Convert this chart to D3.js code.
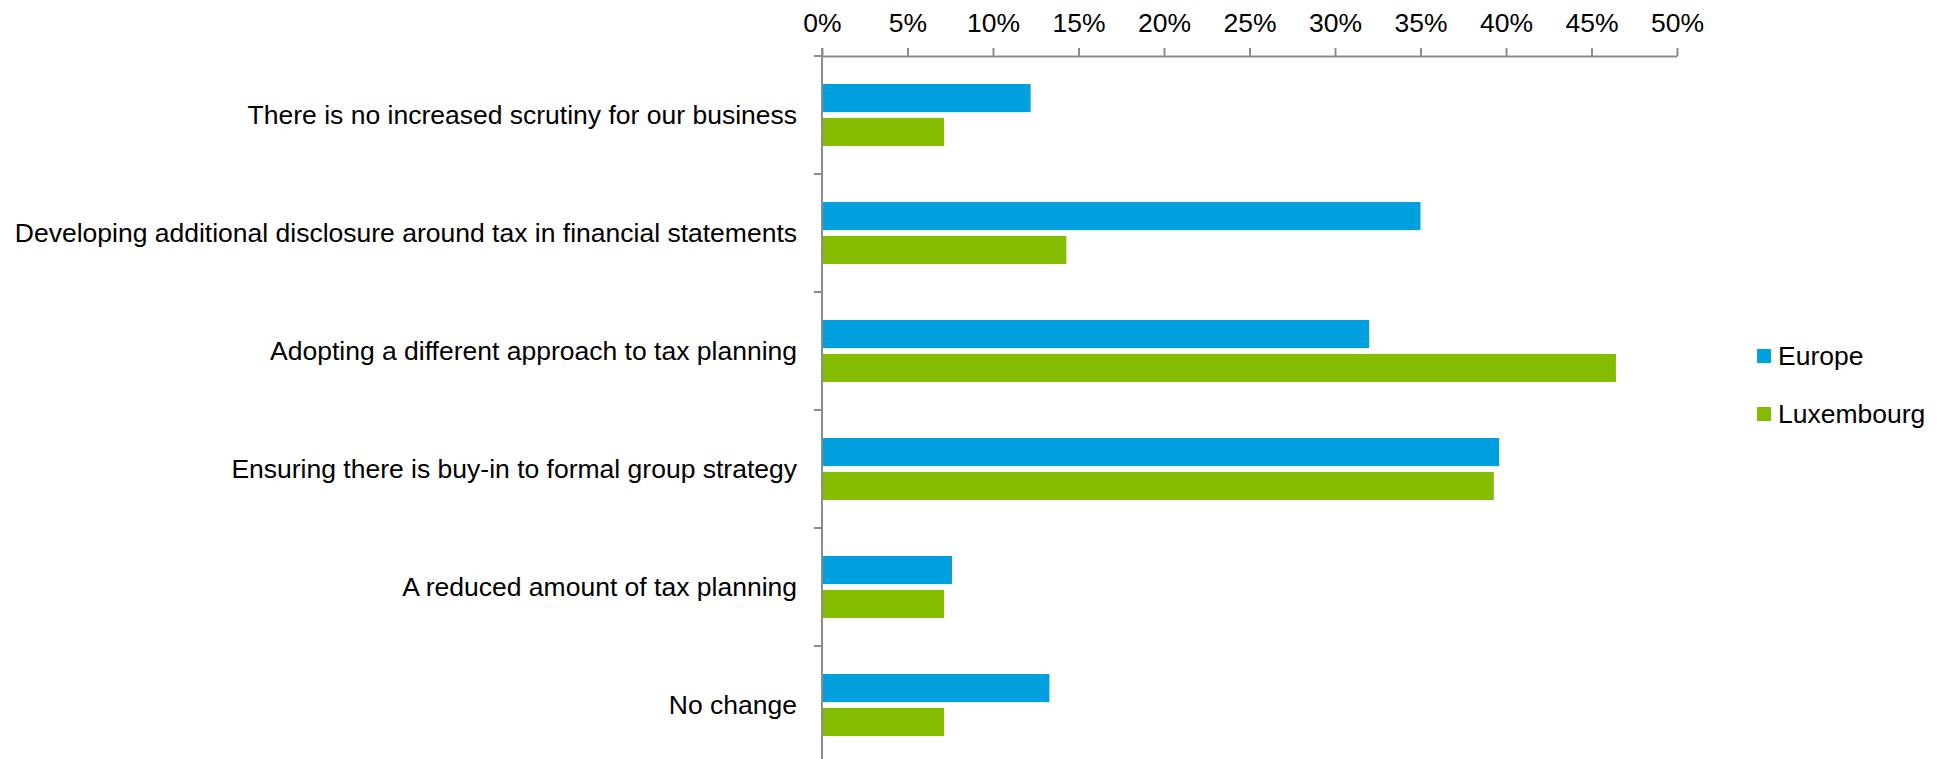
<!DOCTYPE html>
<html>
<head>
<meta charset="utf-8">
<script src="https://cdn.jsdelivr.net/npm/d3@7"></script>
<style>
  html, body { margin: 0; padding: 0; background: #fff; }
  svg { display: block; font-family: "Liberation Sans", Arial, sans-serif; }
</style>
</head>
<body>
<svg id="chart" width="1944" height="759"></svg>
<script>
// Survey responses: share of respondents (%) by region
const categories = [
  "There is no increased scrutiny for our business",
  "Developing additional disclosure around tax in financial statements",
  "Adopting a different approach to tax planning",
  "Ensuring there is buy-in to formal group strategy",
  "A reduced amount of tax planning",
  "No change"
];
const seriesNames = ["Europe", "Luxembourg"];
const europe =     [12.2, 35.0, 32.0, 39.6, 7.6, 13.3];
const luxembourg = [7.14, 14.29, 46.43, 39.29, 7.14, 7.14];
const xTicks = [0, 5, 10, 15, 20, 25, 30, 35, 40, 45, 50];
const colors = ["#00a0df", "#84bc00"];

const svg = d3.select("#chart");
const W = 1944, H = 759;
const plotLeft = 822, plotRight = 1677, plotTop = 56, bandStep = 118;
const fontSize = 26.5;

const x = d3.scaleLinear().domain([0, 50]).range([plotLeft, plotRight]);
const y0 = d3.scaleBand().domain(categories)
  .range([plotTop, plotTop + bandStep * categories.length]).paddingInner(0).paddingOuter(0);
const y1 = d3.scaleBand().domain(seriesNames)
  .range([28, 90]).paddingInner(0.17).paddingOuter(0);
const color = d3.scaleOrdinal().domain(seriesNames).range(colors);

const rows = categories.map((c, i) => ({
  category: c,
  values: [
    { series: "Europe", value: europe[i] },
    { series: "Luxembourg", value: luxembourg[i] }
  ]
}));

// Bars
const groups = svg.append("g").selectAll("g")
  .data(rows).join("g")
  .attr("transform", d => `translate(0,${y0(d.category)})`);
groups.selectAll("rect")
  .data(d => d.values).join("rect")
  .attr("x", x(0))
  .attr("y", d => y1(d.series))
  .attr("width", d => x(d.value) - x(0))
  .attr("height", y1.bandwidth())
  .attr("fill", d => color(d.series));

const axisColor = "#8c8c8c";

// Top value axis
const xAxis = svg.append("g")
  .attr("transform", `translate(0,${plotTop})`)
  .call(d3.axisTop(x).tickValues(xTicks).tickFormat(d => d + "%")
    .tickSize(8).tickSizeOuter(0).tickPadding(16));
xAxis.select(".domain").attr("stroke", axisColor).attr("stroke-width", 2);
xAxis.selectAll(".tick line").attr("stroke", axisColor).attr("stroke-width", 2);
xAxis.selectAll(".tick text")
  .attr("font-size", fontSize).attr("fill", "#000").attr("dy", 0)
  .attr("font-family", "Liberation Sans, Arial, sans-serif");

// Category axis: line, boundary ticks and labels
const yAxis = svg.append("g");
yAxis.append("line")
  .attr("x1", x(0)).attr("x2", x(0))
  .attr("y1", plotTop - 8).attr("y2", H)
  .attr("stroke", axisColor).attr("stroke-width", 2);
const edges = categories.map(c => y0(c));
yAxis.selectAll("line.edge")
  .data(edges).join("line")
  .attr("class", "edge")
  .attr("x1", x(0) - 8).attr("x2", x(0))
  .attr("y1", d => d).attr("y2", d => d)
  .attr("stroke", axisColor).attr("stroke-width", 2);
yAxis.selectAll("text")
  .data(categories).join("text")
  .attr("x", x(0) - 25)
  .attr("y", d => y0(d) + y0.bandwidth() / 2)
  .attr("dy", "0.33em")
  .attr("text-anchor", "end")
  .attr("font-size", fontSize)
  .attr("fill", "#000")
  .text(d => d);

// Legend
const legend = svg.append("g").attr("transform", "translate(1757,349)");
const items = legend.selectAll("g")
  .data(seriesNames).join("g")
  .attr("transform", (d, i) => `translate(0,${i * 58})`);
items.append("rect")
  .attr("width", 14).attr("height", 14)
  .attr("fill", d => color(d));
items.append("text")
  .attr("x", 21).attr("y", 16)
  .attr("font-size", fontSize)
  .attr("fill", "#000")
  .text(d => d);
</script>
</body>
</html>
